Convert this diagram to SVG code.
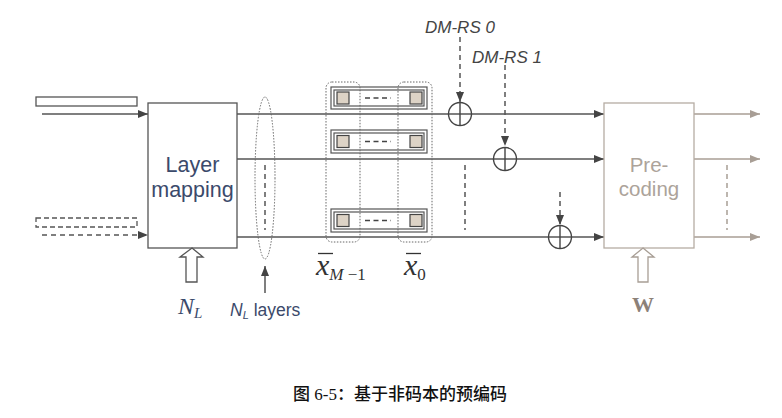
<svg xmlns="http://www.w3.org/2000/svg" width="782" height="418" viewBox="0 0 782 418">
<style>
.ln{stroke:#555;stroke-width:1.5;fill:none}
.dash{stroke:#555;stroke-width:1.5;fill:none;stroke-dasharray:5,4}
.dot{stroke:#666;stroke-width:1;fill:none;stroke-dasharray:1.5,1.5}
.box{fill:#fff;stroke:#555;stroke-width:1.3}
.pbox{fill:#fff;stroke:#b5aca3;stroke-width:1.3}
.pl{stroke:#a89e95;stroke-width:1.5;fill:none}
.sq{fill:#ddd3c6;stroke:#444;stroke-width:1.2}
.navy{fill:#3b4a6b}
.sans{font-family:"Liberation Sans",Arial,sans-serif}
.ser{font-family:"Liberation Serif","Times New Roman",serif}
</style>
<defs>
<marker id="ah" viewBox="0 0 10 8" refX="10" refY="4" markerWidth="10" markerHeight="8" markerUnits="userSpaceOnUse" orient="auto"><path d="M0,0L10,4L0,8z" fill="#444"/></marker>
<marker id="ahp" viewBox="0 0 10 8" refX="10" refY="4" markerWidth="10" markerHeight="8" markerUnits="userSpaceOnUse" orient="auto"><path d="M0,0L10,4L0,8z" fill="#a89e95"/></marker>
</defs>
<rect width="782" height="418" fill="#fff"/>

<g id="inputs">
<rect x="36" y="97" width="101" height="9" fill="#fff" stroke="#555" stroke-width="1.3"/>
<rect x="36" y="218" width="101" height="9" fill="#fff" stroke="#555" stroke-width="1.3" stroke-dasharray="5,3"/>
</g>

<g id="connectors">
<line class="ln" x1="42" y1="114" x2="148" y2="114" marker-end="url(#ah)"/>
<line class="dash" x1="42" y1="235" x2="148" y2="235" marker-end="url(#ah)"/>
<line class="ln" x1="237" y1="114" x2="604" y2="114" marker-end="url(#ah)"/>
<line class="ln" x1="237" y1="159" x2="604" y2="159" marker-end="url(#ah)"/>
<line class="ln" x1="237" y1="237" x2="604" y2="237" marker-end="url(#ah)"/>
<line class="dash" x1="265" y1="165" x2="265" y2="230"/>
<line class="dash" x1="465" y1="165" x2="465" y2="230"/>
<line class="ln" x1="265" y1="293" x2="265" y2="266" marker-end="url(#ah)"/>
<line class="dash" x1="460" y1="37" x2="460" y2="102" marker-end="url(#ah)"/>
<line class="dash" x1="505" y1="65" x2="505" y2="146" marker-end="url(#ah)"/>
<line class="dash" x1="560" y1="192" x2="560" y2="225" marker-end="url(#ah)"/>
<line class="pl" x1="694" y1="114" x2="760" y2="114" marker-end="url(#ahp)"/>
<line class="pl" x1="694" y1="159" x2="760" y2="159" marker-end="url(#ahp)"/>
<line class="pl" x1="694" y1="237" x2="760" y2="237" marker-end="url(#ahp)"/>
<line x1="727" y1="165" x2="727" y2="230" stroke="#a89e95" stroke-width="1.5" stroke-dasharray="5,4"/>
</g>

<g id="layer-mapping">
<rect class="box" x="148" y="103" width="89" height="145"/>
<text class="sans navy" x="192.5" y="172" font-size="21.5" text-anchor="middle">Layer</text>
<text class="sans navy" x="192.5" y="197" font-size="21.5" text-anchor="middle">mapping</text>
<path d="M192,248L203,257L197,257L197,282L186,282L186,257L180,257Z" fill="#fff" stroke="#555" stroke-width="1.3"/>
<text class="ser navy" x="178" y="314" font-size="24" font-style="italic">N<tspan font-size="15" dy="4">L</tspan></text>
</g>

<g id="layers">
<ellipse class="dot" cx="265" cy="178" rx="10" ry="81"/>
<text class="sans navy" x="230" y="316" font-size="17.5"><tspan font-style="italic">N</tspan><tspan font-size="11" dy="3" font-style="italic">L</tspan><tspan dy="-3"> layers</tspan></text>
</g>

<g id="symbols">
<rect x="331" y="87" width="96" height="22" fill="#fff" stroke="#555" stroke-width="1.2"/>
<rect x="334" y="90" width="90" height="16" fill="none" stroke="#555" stroke-width="1.2"/>
<rect class="sq" x="337" y="92" width="12" height="12"/>
<rect class="sq" x="410" y="92" width="12" height="12"/>
<line x1="365" y1="98" x2="391" y2="98" stroke="#444" stroke-width="1.5" stroke-dasharray="5,3.5"/>

<rect x="331" y="130" width="96" height="23" fill="#fff" stroke="#555" stroke-width="1.2"/>
<rect x="334" y="133" width="90" height="17" fill="none" stroke="#555" stroke-width="1.2"/>
<rect class="sq" x="337" y="135.5" width="12" height="12"/>
<rect class="sq" x="410" y="135.5" width="12" height="12"/>
<line x1="365" y1="141.5" x2="391" y2="141.5" stroke="#444" stroke-width="1.5" stroke-dasharray="5,3.5"/>

<rect x="331" y="209" width="96" height="23" fill="#fff" stroke="#555" stroke-width="1.2"/>
<rect x="334" y="212" width="90" height="17" fill="none" stroke="#555" stroke-width="1.2"/>
<rect class="sq" x="337" y="214.5" width="12" height="12"/>
<rect class="sq" x="410" y="214.5" width="12" height="12"/>
<line x1="365" y1="220.5" x2="391" y2="220.5" stroke="#444" stroke-width="1.5" stroke-dasharray="5,3.5"/>

<rect class="dot" x="326" y="82" width="34" height="160" rx="6"/>
<rect class="dot" x="398" y="82" width="34" height="160" rx="6"/>

<line x1="318" y1="253.5" x2="333" y2="253.5" stroke="#333" stroke-width="1.3"/>
<text class="ser" x="316" y="275" font-size="30" font-style="italic" fill="#333">x<tspan font-size="17" dy="5">M</tspan><tspan font-size="17" font-style="normal"> −1</tspan></text>
<line x1="406" y1="253.5" x2="421" y2="253.5" stroke="#333" stroke-width="1.3"/>
<text class="ser" x="404" y="275" font-size="30" font-style="italic" fill="#333">x<tspan font-size="17" dy="5" font-style="normal">0</tspan></text>
</g>

<g id="dmrs">
<text class="sans" x="425" y="33" font-size="17" font-style="italic" fill="#444">DM-RS 0</text>
<text class="sans" x="472" y="63" font-size="17" font-style="italic" fill="#444">DM-RS 1</text>
<circle cx="460" cy="114" r="11.5" fill="none" stroke="#444" stroke-width="1.4"/>
<line x1="460" y1="102.5" x2="460" y2="125.5" stroke="#444" stroke-width="1.4"/>
<circle cx="505" cy="159" r="11.5" fill="none" stroke="#444" stroke-width="1.4"/>
<line x1="505" y1="147.5" x2="505" y2="170.5" stroke="#444" stroke-width="1.4"/>
<circle cx="560" cy="237" r="11.5" fill="none" stroke="#444" stroke-width="1.4"/>
<line x1="560" y1="225.5" x2="560" y2="248.5" stroke="#444" stroke-width="1.4"/>
</g>

<g id="precoding">
<rect class="pbox" x="604" y="103" width="90" height="145"/>
<text class="sans" x="649" y="172" font-size="20.5" text-anchor="middle" fill="#aca39a">Pre-</text>
<text class="sans" x="649" y="196" font-size="20.5" text-anchor="middle" fill="#aca39a">coding</text>
<path d="M643,248L654,257L648,257L648,282L638,282L638,257L632,257Z" fill="#fff" stroke="#a89e95" stroke-width="1.3"/>
<text class="ser" x="643" y="312" font-size="22" font-weight="bold" text-anchor="middle" fill="#8c8178">W</text>
</g>

<text x="293" y="400" font-size="17" font-weight="500" fill="#111" font-family="'Liberation Serif','Noto Sans CJK SC',serif">图 6-5：基于非码本的预编码</text>
</svg>
